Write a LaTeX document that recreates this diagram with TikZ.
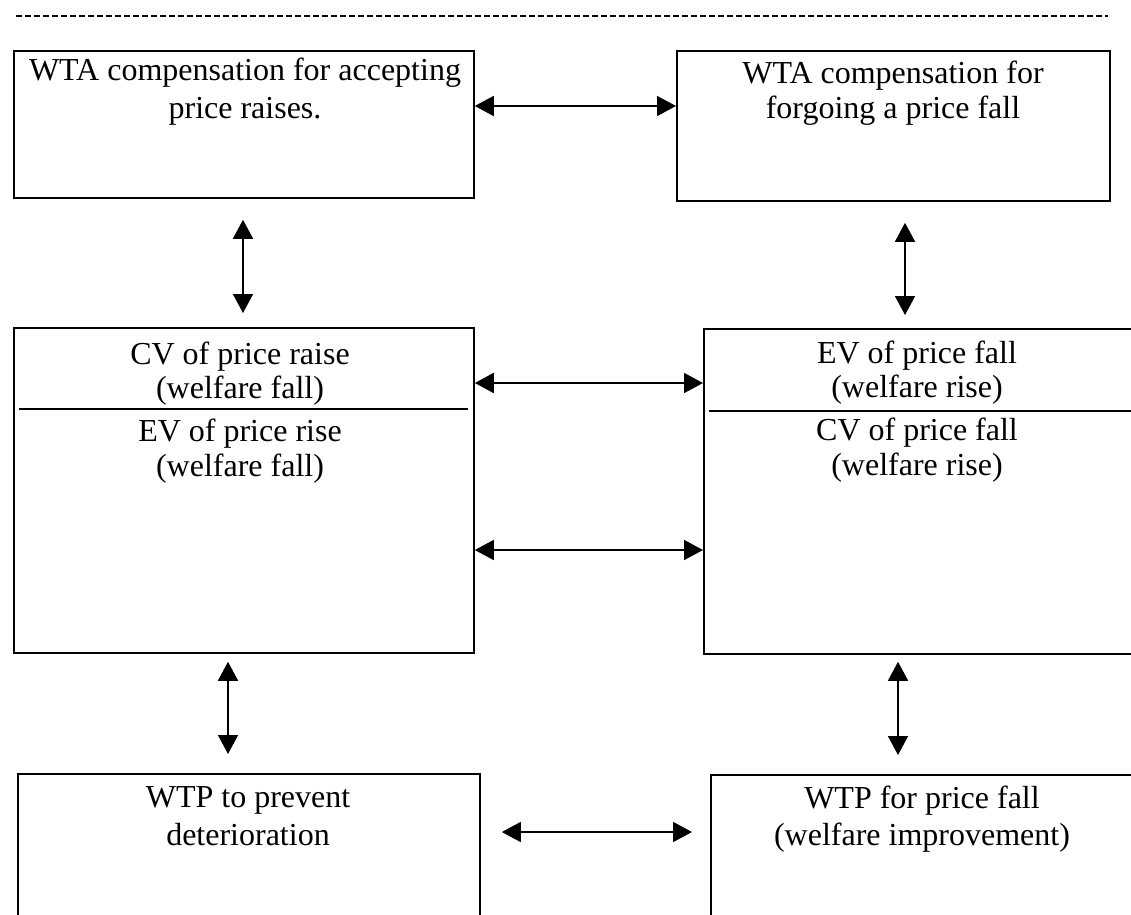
\documentclass[tikz,border=0pt]{standalone}
\usepackage{fontspec}
\setmainfont{Liberation Serif}
\usetikzlibrary{arrows.meta}
\begin{document}
\begin{tikzpicture}[x=1pt,y=-1pt,
  box/.style={draw, line width=1.8pt, rectangle, inner sep=0pt, anchor=north west},
  divider/.style={line width=1.4pt},
  dbl/.style={{Triangle[length=19pt,width=20pt]}-{Triangle[length=19pt,width=20pt]}, line width=1.7pt},
  txt/.style={font=\fontsize{32}{37}\selectfont, anchor=base, inner sep=0pt},
  topdash/.style={line width=2.2pt, dash pattern=on 6pt off 3pt}]
\fill[white] (0,0) rectangle (1131,914);
\clip (0,0) rectangle (1131,914);
% top dashed rule
\coordinate (dl) at (16,16);
\coordinate (dr) at (1108,16);
\draw[topdash] (dl) -- (dr);
% boxes
\node[box, minimum width=460pt, minimum height=147pt] (wta1) at (13,50) {};
\node[box, minimum width=433pt, minimum height=150pt] (wta2) at (676,50) {};
\node[box, minimum width=460pt, minimum height=325pt] (mid1) at (13,327) {};
\node[box, minimum width=450pt, minimum height=325pt] (mid2) at (703,328) {};
\node[box, minimum width=462pt, minimum height=170pt] (wtp1) at (17,773) {};
\node[box, minimum width=450pt, minimum height=170pt] (wtp2) at (710,774) {};
% dividers
\coordinate (d1a) at (19,409);
\coordinate (d1b) at (468,409);
\draw[divider] (d1a) -- (d1b);
\coordinate (d2a) at (709,411);
\coordinate (d2b) at (1131,411);
\draw[divider] (d2a) -- (d2b);
% texts
\node[txt] (t1a) at (245,80) {WTA compensation for accepting};
\node[txt] (t1b) at (245,118) {price raises.};
\node[txt] (t2a) at (893,83) {WTA compensation for};
\node[txt] (t2b) at (893,118) {forgoing a price fall};
\node[txt] (t3a) at (240,364) {CV of price raise};
\node[txt] (t3b) at (240,398) {(welfare fall)};
\node[txt] (t3c) at (240,441) {EV of price rise};
\node[txt] (t3d) at (240,476) {(welfare fall)};
\node[txt] (t4a) at (917,363) {EV of price fall};
\node[txt] (t4b) at (917,397) {(welfare rise)};
\node[txt] (t4c) at (917,440) {CV of price fall};
\node[txt] (t4d) at (917,475) {(welfare rise)};
\node[txt] (t5a) at (248,807) {WTP to prevent};
\node[txt] (t5b) at (248,845) {deterioration};
\node[txt] (t6a) at (922,808) {WTP for price fall};
\node[txt] (t6b) at (922,845) {(welfare improvement)};
% horizontal arrows
\draw[dbl] (wta1.east |- 0,106) -- (wta2.west |- 0,106);
\draw[dbl] (mid1.east |- 0,383) -- (mid2.west |- 0,383);
\draw[dbl] (mid1.east |- 0,550) -- (mid2.west |- 0,550);
\draw[dbl, shorten <=21pt, shorten >=18pt] (wtp1.east |- 0,832) -- (wtp2.west |- 0,832);
% vertical arrows
\draw[dbl, shorten <=21pt, shorten >=14pt] (243,0 |- wta1.south) -- (243,0 |- mid1.north);
\draw[dbl, shorten <=21pt, shorten >=13pt] (905,0 |- wta2.south) -- (905,0 |- mid2.north);
\draw[dbl, shorten <=8pt, shorten >=19pt] (228,0 |- mid1.south) -- (228,0 |- wtp1.north);
\draw[dbl, shorten <=7pt, shorten >=19pt] (898,0 |- mid2.south) -- (898,0 |- wtp2.north);
\end{tikzpicture}
\end{document}
